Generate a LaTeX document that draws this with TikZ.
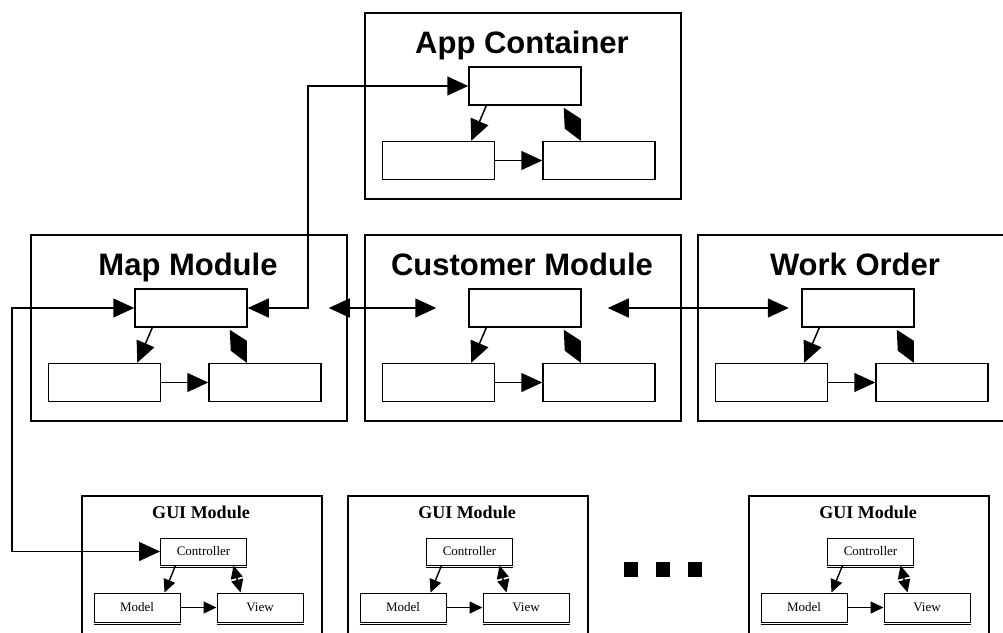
\documentclass[tikz,border=0pt]{standalone}
\usepackage{fontspec}
\setmainfont{Liberation Serif}
\newfontfamily\headfont{Liberation Sans}
\usetikzlibrary{arrows.meta,calc}

\tikzset{
  outerbox/.style={draw, line width=1.5pt, inner sep=0pt, fill=white},
  partbox/.style={draw, line width=1.5pt, inner sep=0pt, minimum width=112pt, minimum height=38pt, fill=white},
  bigtitle/.style={font=\headfont\bfseries\fontsize{31}{31}\selectfont, inner sep=0pt},
  guiouter/.style={draw, line width=2pt, inner sep=0pt},
  guititle/.style={font=\bfseries\fontsize{18}{18}\selectfont, inner sep=0pt},
  guipart/.style={draw, line width=1pt, inner sep=0pt, minimum width=86pt, minimum height=27pt,
                  font=\fontsize{13}{13}\selectfont, fill=white},
  wire/.style={line width=1.5pt},
  bigtip/.tip={Triangle[length=21pt,width=19pt]},
  smalltip/.tip={Triangle[length=13pt,width=12pt]},
  bigarrow/.style={wire, -bigtip},
  bigboth/.style={wire, bigtip-bigtip},
  smallarrow/.style={line width=1.4pt, -smalltip},
  smallboth/.style={line width=1.4pt, smalltip-smalltip},
}

% module: #1 name, #2 left, #3 top, #4 title
\newcommand\modulebox[4]{%
  \node[outerbox, minimum width=316pt, minimum height=186pt, anchor=north west] (#1) at (#2,#3) {};
  \node[bigtitle, anchor=base] (#1-title) at ({#2+158},{#3+41}) {#4};
  \node[partbox] (#1-top) at ({#2+161},{#3+74}) {};
  \node[partbox] (#1-left) at ({#2+74.5},{#3+148.5}) {};
  \node[partbox] (#1-right) at ({#2+235},{#3+148.5}) {};
  \draw[bigarrow] ([xshift=18pt]#1-top.south west) -- ([xshift=-24pt]#1-left.north east);
  \draw[bigarrow] (#1-left.east) -- (#1-right.west);
  \fill ($(#1-top.south east)+(-18,2)$) -- ($(#1-top.south east)+(-1,13)$)
        -- ($(#1-top.south east)+(-1,35)$) -- ($(#1-top.south east)+(-17,23)$) -- cycle;
}

% GUI module: #1 name, #2 left
\newcommand\guibox[2]{%
  \node[guiouter, minimum width=240pt, minimum height=170pt, anchor=north west] (#1) at (#2,495) {};
  \node[guititle, anchor=base] (#1-title) at ({#2+120},518) {GUI Module};
  \node[guipart] (#1-ctrl) at ({#2+122.5},551.5) {Controller};
  \node[guipart, minimum height=29pt] (#1-model) at ({#2+56},607.5) {Model};
  \node[guipart, minimum height=29pt] (#1-view) at ({#2+179},607.5) {View};
  \foreach \p in {ctrl,model,view}{
    \draw[line width=1pt] ([yshift=-2pt]#1-\p.south west) -- ([yshift=-2pt]#1-\p.south east);
  }
  \draw[smallarrow] ([xshift=15.5pt]#1-ctrl.south west) -- ([xshift=-16pt]#1-model.north east);
  \draw[smallarrow] (#1-model.east) -- (#1-view.west);
  \draw[smallboth] ([xshift=-13.5pt]#1-ctrl.south east) -- ([xshift=24pt]#1-view.north west);
}

\begin{document}
\begin{tikzpicture}[x=1pt,y=-1pt]
  \useasboundingbox (0,0) rectangle (1003,632);
  \fill[white] (0,0) rectangle (1003,632);
  \clip (0,0) rectangle (1003,632);

  \modulebox{app}{364}{12}{App Container}
  \modulebox{map}{30}{234}{Map Module}
  \modulebox{cust}{364}{234}{Customer Module}
  \modulebox{work}{697}{234}{Work Order}

  \guibox{guiA}{81}
  \guibox{guiB}{347}
  \guibox{guiC}{748}

  % ellipsis between the GUI modules
  \foreach \cx [count=\i] in {631,663,695}{
    \node[fill, inner sep=0pt, minimum width=14pt, minimum height=15pt] (dot\i) at (\cx,569.5) {};
  }

  % links between the modules
  \coordinate (bendA) at (308,200);
  \coordinate (bendB) at (12,450);
  \draw[bigboth] (map-top.east) -| (bendA) |- (app-top.west);
  \draw[bigboth] (guiA-ctrl.west) -| (bendB) |- (map-top.west);
  \draw[bigboth, shorten <=81pt, shorten >=32pt] (map-top.east) -- (cust-top.west);
  \draw[bigboth, shorten <=26pt, shorten >=12.5pt] (cust-top.east) -- (work-top.west);
\end{tikzpicture}
\end{document}
